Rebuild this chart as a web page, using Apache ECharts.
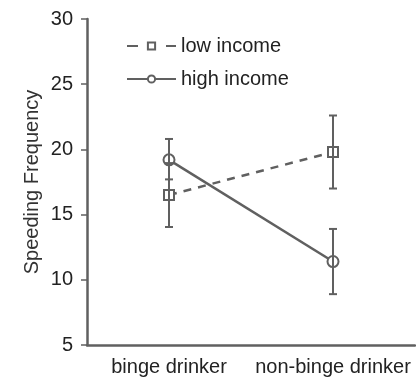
<!DOCTYPE html>
<html><head><meta charset="utf-8">
<script src="https://cdn.jsdelivr.net/npm/echarts@6/dist/echarts.min.js"></script>
<style>html,body{margin:0;padding:0;background:#fff}#c{width:416px;height:377px}</style>
</head><body><div id="c"></div>
<script>
const categories = ['binge drinker', 'non-binge drinker'];
const lowIncome = [16.5, 19.8];
const lowLower = [14.05, 17.0];
const lowUpper = [18.95, 22.6];
const highIncome = [19.2, 11.4];
const highLower = [17.7, 8.9];
const highUpper = [20.8, 13.9];
const yTicks = [5, 10, 15, 20, 25, 30];

const gray = '#606060';
const font = 'Liberation Sans';
const chart = echarts.init(document.getElementById('c'));

function errData(lo, hi) { return categories.map((c, i) => [i, lo[i], hi[i]]); }
function renderErr(params, api) {
  const x = api.value(0);
  const p1 = api.coord([x, api.value(1)]);
  const p2 = api.coord([x, api.value(2)]);
  const w = 4;
  const st = { stroke: gray, lineWidth: 2 };
  return { type: 'group', children: [
    { type: 'line', shape: { x1: p1[0], y1: p1[1], x2: p2[0], y2: p2[1] }, style: st },
    { type: 'line', shape: { x1: p1[0] - w, y1: p1[1], x2: p1[0] + w, y2: p1[1] }, style: st },
    { type: 'line', shape: { x1: p2[0] - w, y1: p2[1], x2: p2[0] + w, y2: p2[1] }, style: st }
  ]};
}

chart.setOption({
  animation: false,
  grid: { left: 87, right: 1, top: 19, bottom: 32 },
  legend: {
    left: 121, top: 31, orient: 'vertical', itemWidth: 49, itemHeight: 9, itemGap: 13,
    textStyle: { fontFamily: font, fontSize: 20, color: '#222' },
    data: [
      { name: 'low income', lineStyle: { type: [11, 28] } },
      { name: 'high income' }
    ]
  },
  xAxis: {
    type: 'category', data: categories, boundaryGap: true,
    axisLine: { lineStyle: { color: gray, width: 2.5 } },
    axisTick: { alignWithLabel: true, length: 4, lineStyle: { color: '#ccc' } },
    axisLabel: { interval: 0, hideOverlap: false, fontFamily: font, fontSize: 20, color: '#222', margin: 12 }
  },
  yAxis: {
    type: 'value', min: 5, max: 30, interval: 5,
    name: 'Speeding Frequency', nameLocation: 'middle', nameGap: 45, nameRotate: 90,
    nameMoveOverlap: false,
    nameTextStyle: { fontFamily: font, fontSize: 20, color: '#333' },
    splitLine: { show: false },
    axisLine: { show: true, lineStyle: { color: gray, width: 2.5 } },
    axisTick: { show: true, length: 6, lineStyle: { color: gray, width: 1.5 } },
    axisLabel: { fontFamily: font, fontSize: 20, color: '#222', margin: 14,
      formatter: v => yTicks.includes(v) ? String(v) : '' }
  },
  series: [
    { name: 'low income', type: 'line', data: lowIncome, symbol: 'emptyRect', symbolSize: 10,
      lineStyle: { color: gray, width: 2.5, type: [8, 7] }, itemStyle: { color: gray, borderWidth: 1.5 }, z: 3 },
    { name: 'high income', type: 'line', data: highIncome, symbol: 'emptyCircle', symbolSize: 11,
      lineStyle: { color: gray, width: 2.5 }, itemStyle: { color: gray, borderWidth: 1.5 }, z: 3 },
    { type: 'custom', data: errData(lowLower, lowUpper), renderItem: renderErr, z: 4, silent: true },
    { type: 'custom', data: errData(highLower, highUpper), renderItem: renderErr, z: 4, silent: true }
  ]
});
</script></body></html>
